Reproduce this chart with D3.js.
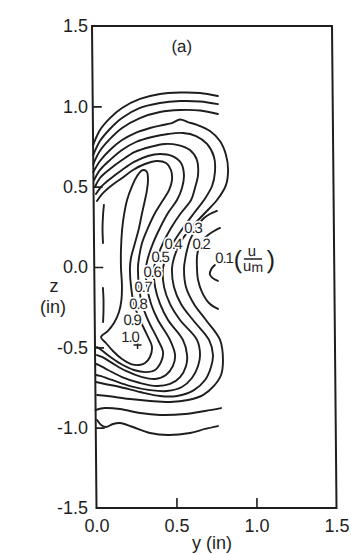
<!DOCTYPE html>
<html>
<head>
<meta charset="utf-8">
<script src="https://cdn.jsdelivr.net/npm/d3@7"></script>
<style>
  html, body { margin: 0; padding: 0; background: #fff; }
  svg { display: block; }
</style>
</head>
<body>
<svg id="chart" width="351" height="554"></svg>
<script>
// Velocity contours u/um in the (y, z) plane, coordinates in inches: [y, z]
const level01Top = [[0.000,0.759],[0.044,0.853],[0.107,0.927],[0.183,0.990],[0.296,1.046],[0.421,1.077],[0.546,1.086],[0.671,1.083],[0.783,1.064]];
const level01Mid = [[0.754,0.012],[0.732,-0.012],[0.722,-0.044],[0.738,-0.068],[0.772,-0.087]];
const level01Bot = [[0.009,-0.952],[0.034,-0.983],[0.064,-0.996],[0.108,-0.977],[0.152,-0.971],[0.233,-0.996],[0.339,-1.033],[0.451,-1.046],[0.589,-1.033],[0.683,-1.008],[0.764,-0.990]];

const level02Top = [[0.000,0.697],[0.043,0.784],[0.106,0.859],[0.182,0.927],[0.295,0.990],[0.420,1.021],[0.546,1.033],[0.671,1.030],[0.783,1.014]];
const level02Mid = [[0.788,0.243],[0.751,0.224],[0.713,0.199],[0.681,0.168],[0.656,0.124],[0.643,0.068],[0.642,-0.006],[0.648,-0.081],[0.672,-0.156],[0.715,-0.224],[0.771,-0.261]];
const level02Bot = [[0.000,-0.890],[0.059,-0.878],[0.152,-0.884],[0.278,-0.909],[0.402,-0.921],[0.559,-0.915],[0.684,-0.896],[0.784,-0.878]];

const level03Top = [[0.000,0.641],[0.042,0.722],[0.106,0.797],[0.182,0.865],[0.294,0.927],[0.420,0.965],[0.545,0.977],[0.670,0.974],[0.782,0.952]];
const level03Low = [[0.770,0.349],[0.726,0.330],[0.689,0.305],[0.657,0.268],[0.626,0.218],[0.600,0.168],[0.581,0.106],[0.568,0.044],[0.561,-0.006],[0.572,-0.124],[0.621,-0.230],[0.695,-0.330],[0.782,-0.454],[0.799,-0.579],[0.786,-0.672],[0.741,-0.740],[0.672,-0.797],[0.578,-0.828],[0.466,-0.840],[0.341,-0.834],[0.216,-0.822],[0.122,-0.809],[0.010,-0.797]];

const level04 = [[0.000,0.591],[0.042,0.660],[0.105,0.728],[0.181,0.790],[0.263,0.834],[0.357,0.865],[0.438,0.884],[0.494,0.896],[0.545,0.918],[0.594,0.902],[0.651,0.884],[0.731,0.846],[0.793,0.784],[0.830,0.697],[0.842,0.604],[0.828,0.510],[0.771,0.417],[0.695,0.336],[0.607,0.243],[0.537,0.149],[0.499,0.056],[0.486,-0.006],[0.497,-0.124],[0.540,-0.230],[0.614,-0.330],[0.713,-0.454],[0.737,-0.548],[0.724,-0.622],[0.686,-0.703],[0.616,-0.766],[0.510,-0.803],[0.403,-0.803],[0.279,-0.778],[0.154,-0.747],[0.060,-0.728],[0.004,-0.716]];

const level05 = [[0.004,0.541],[0.042,0.604],[0.105,0.666],[0.180,0.728],[0.268,0.778],[0.369,0.809],[0.469,0.828],[0.563,0.834],[0.644,0.815],[0.712,0.766],[0.755,0.685],[0.760,0.591],[0.741,0.504],[0.690,0.417],[0.627,0.336],[0.557,0.243],[0.494,0.149],[0.449,0.056],[0.430,-0.006],[0.435,-0.124],[0.471,-0.230],[0.533,-0.330],[0.638,-0.454],[0.656,-0.548],[0.643,-0.616],[0.604,-0.691],[0.541,-0.747],[0.447,-0.772],[0.341,-0.766],[0.217,-0.741],[0.104,-0.703],[0.030,-0.678],[0.005,-0.672]];

const level06 = [[0.009,0.498],[0.041,0.554],[0.104,0.610],[0.180,0.666],[0.261,0.716],[0.355,0.747],[0.449,0.766],[0.531,0.759],[0.605,0.728],[0.648,0.666],[0.654,0.573],[0.634,0.492],[0.609,0.417],[0.545,0.336],[0.482,0.243],[0.431,0.149],[0.393,0.056],[0.373,-0.006],[0.379,-0.124],[0.409,-0.230],[0.458,-0.330],[0.550,-0.454],[0.575,-0.548],[0.568,-0.616],[0.530,-0.685],[0.467,-0.728],[0.385,-0.741],[0.279,-0.722],[0.167,-0.685],[0.080,-0.641],[0.024,-0.610],[0.005,-0.604]];

const level07 = [[0.015,0.454],[0.047,0.498],[0.104,0.548],[0.179,0.604],[0.255,0.654],[0.342,0.691],[0.418,0.703],[0.492,0.691],[0.548,0.647],[0.566,0.573],[0.553,0.492],[0.521,0.417],[0.464,0.336],[0.413,0.243],[0.369,0.149],[0.336,0.056],[0.323,-0.006],[0.329,-0.124],[0.353,-0.230],[0.395,-0.330],[0.469,-0.454],[0.500,-0.548],[0.486,-0.616],[0.442,-0.672],[0.373,-0.697],[0.292,-0.685],[0.192,-0.647],[0.105,-0.597],[0.043,-0.560],[0.012,-0.548]];

const level08 = [[0.021,0.411],[0.053,0.454],[0.109,0.504],[0.179,0.554],[0.248,0.604],[0.323,0.641],[0.398,0.660],[0.455,0.647],[0.485,0.604],[0.491,0.541],[0.472,0.479],[0.434,0.417],[0.383,0.336],[0.338,0.243],[0.300,0.149],[0.280,0.056],[0.273,-0.006],[0.279,-0.124],[0.296,-0.230],[0.333,-0.330],[0.394,-0.454],[0.425,-0.529],[0.412,-0.591],[0.374,-0.641],[0.317,-0.654],[0.242,-0.641],[0.162,-0.604],[0.087,-0.554],[0.031,-0.510],[0.013,-0.498]];

// closed 0.9 contour around the core of the jet
const level09Loop = [[0.038,-0.436],[0.069,-0.473],[0.112,-0.523],[0.168,-0.573],[0.224,-0.604],[0.274,-0.610],[0.312,-0.597],[0.343,-0.560],[0.356,-0.498],[0.326,-0.423],[0.283,-0.330],[0.246,-0.230],[0.229,-0.124],[0.223,-0.006],[0.230,0.056],[0.256,0.149],[0.282,0.243],[0.302,0.336],[0.321,0.417],[0.334,0.479],[0.341,0.541],[0.335,0.591],[0.317,0.604],[0.298,0.597],[0.273,0.566],[0.241,0.504],[0.209,0.417],[0.189,0.324],[0.176,0.230],[0.168,0.106],[0.167,-0.006],[0.172,-0.112],[0.168,-0.205],[0.152,-0.280],[0.120,-0.349],[0.082,-0.398]];

// short pieces running along the symmetry plane
const wallPieceUpper = [[0.064,0.386],[0.058,0.324],[0.054,0.243],[0.056,0.149]];
const wallPieceLower = [[0.053,-0.131],[0.056,-0.205],[0.055,-0.280],[0.052,-0.342]];

// contour value labels and their anchor points (inches)
const labelTexts = ["0.3","0.4","0.2","0.5","0.6","0.7","0.8","0.9","1.0","0.1"];
const labelY     = [0.619, 0.494, 0.669, 0.412, 0.361, 0.304, 0.271, 0.233, 0.219, 0.811];
const labelZ     = [0.243, 0.149, 0.149, 0.068,-0.031,-0.124,-0.230,-0.324,-0.430, 0.056];

// location of the velocity maximum
const peakPoint = [0.266, -0.485];

// axes
const yTickLabels = [1.5, 1.0, 0.5, 0.0, -0.5, -1.0, -1.5];
const yTickMarks  = [1.0, 0.5, 0.0, -0.5, -1.0];
const xTickLabels = [0.0, 0.5, 1.0, 1.5];
const xTickMarks  = [0.5, 1.0];

const openContours = [
  {level: 0.1, pts: level01Top}, {level: 0.1, pts: level01Mid}, {level: 0.1, pts: level01Bot},
  {level: 0.2, pts: level02Top}, {level: 0.2, pts: level02Mid}, {level: 0.2, pts: level02Bot},
  {level: 0.3, pts: level03Top}, {level: 0.3, pts: level03Low},
  {level: 0.4, pts: level04}, {level: 0.5, pts: level05}, {level: 0.6, pts: level06},
  {level: 0.7, pts: level07}, {level: 0.8, pts: level08},
  {level: 0.9, pts: wallPieceUpper}, {level: 0.9, pts: wallPieceLower}
];

const FONT = '"Liberation Sans", Arial, Helvetica, sans-serif';
const INK = "#1e1e1e";

const svg = d3.select("#chart");
svg.append("rect").attr("width", 351).attr("height", 554).attr("fill", "#fff");

const plotLeft = 92, plotTop = 26, plotW = 240, plotH = 482;
const lean = 0.535; // degrees, the frame leans slightly to the right

const x = d3.scaleLinear().domain([0, 1.5]).range([0, plotW]);
const z = d3.scaleLinear().domain([-1.5, 1.5]).range([plotH, 0]);

const plot = svg.append("g")
  .attr("transform", `translate(${plotLeft},${plotTop}) skewX(${lean})`);

// inward tick marks
plot.append("g")
  .call(d3.axisRight(z).tickValues(yTickMarks).tickSize(9).tickFormat(""))
  .call(g => g.select(".domain").remove())
  .call(g => g.selectAll("line").attr("stroke", INK).attr("stroke-width", 1.6));
plot.append("g")
  .attr("transform", `translate(0,${plotH})`)
  .call(d3.axisTop(x).tickValues(xTickMarks).tickSize(10).tickFormat(""))
  .call(g => g.select(".domain").remove())
  .call(g => g.selectAll("line").attr("stroke", INK).attr("stroke-width", 1.6));

// frame
plot.append("rect")
  .attr("width", plotW).attr("height", plotH)
  .attr("fill", "none").attr("stroke", INK).attr("stroke-width", 2);

// contour lines
const line = d3.line()
  .x(d => x(d[0])).y(d => z(d[1]))
  .curve(d3.curveCatmullRom.alpha(0.5));
const loop = d3.line()
  .x(d => x(d[0])).y(d => z(d[1]))
  .curve(d3.curveCatmullRomClosed.alpha(0.5));

const contourG = plot.append("g")
  .attr("fill", "none").attr("stroke", INK)
  .attr("stroke-width", 1.9).attr("stroke-linecap", "round").attr("stroke-linejoin", "round");
contourG.selectAll("path.open").data(openContours).join("path")
  .attr("class", "open").attr("d", d => line(d.pts));
contourG.append("path").datum(level09Loop).attr("d", loop);

// peak marker
const [py0, pz0] = [x(peakPoint[0]), z(peakPoint[1])];
plot.append("path")
  .attr("d", `M${py0 - 4},${pz0}H${py0 + 4}M${py0},${pz0 - 4}V${pz0 + 4}`)
  .attr("stroke", INK).attr("stroke-width", 1.5);

// contour value labels, with a white halo that breaks the lines beneath
const labels = labelTexts.map((t, i) => ({t, y: labelY[i], z: labelZ[i]}));
plot.append("g").selectAll("text").data(labels).join("text")
  .attr("x", d => x(d.y)).attr("y", d => z(d.z))
  .attr("text-anchor", "middle").attr("dominant-baseline", "central")
  .attr("font-family", FONT).attr("font-size", 15).attr("letter-spacing", -1.2)
  .attr("fill", INK).attr("stroke", "#fff").attr("stroke-width", 3.5)
  .attr("paint-order", "stroke")
  .text(d => d.t);

// (u / um) beside the 0.1 label
const fx = x(labelY[9]), fz = z(labelZ[9]);
const frac = plot.append("g").attr("font-family", FONT).attr("fill", INK);
frac.append("text").attr("x", fx + 14).attr("y", fz + 10).attr("font-size", 25)
  .attr("text-anchor", "middle").text("(");
frac.append("text").attr("x", fx + 28).attr("y", fz - 2).attr("font-size", 15)
  .attr("text-anchor", "middle").text("u");
frac.append("line").attr("x1", fx + 20).attr("x2", fx + 38).attr("y1", fz + 1).attr("y2", fz + 1)
  .attr("stroke", INK).attr("stroke-width", 1.4);
const um = frac.append("text").attr("x", fx + 29).attr("y", fz + 13).attr("font-size", 15)
  .attr("text-anchor", "middle");
um.append("tspan").text("u");
um.append("tspan").attr("dy", 1).attr("font-size", 14).text("m");
frac.append("text").attr("x", fx + 47).attr("y", fz + 10).attr("font-size", 25)
  .attr("text-anchor", "middle").text(")");

// panel tag
plot.append("text")
  .attr("x", x(0.56)).attr("y", z(1.37) + 5)
  .attr("text-anchor", "middle").attr("font-family", FONT).attr("font-size", 17)
  .attr("fill", INK).text("(a)");

// tick labels
const fmt = v => (v < 0 ? "-" : "") + Math.abs(v).toFixed(1);
svg.append("g")
  .attr("transform", `translate(${plotLeft - 3},${plotTop})`)
  .attr("color", INK)
  .call(d3.axisLeft(z).tickValues(yTickLabels).tickSize(0).tickPadding(1).tickFormat(fmt))
  .call(g => g.select(".domain").remove())
  .call(g => g.selectAll("text").attr("font-family", FONT).attr("font-size", 18).attr("fill", INK));

svg.append("g")
  .attr("transform", `translate(${plotLeft + 4.5},${plotTop + plotH})`)
  .attr("color", INK)
  .call(d3.axisBottom(x).tickValues(xTickLabels).tickSize(0).tickPadding(11).tickFormat(fmt))
  .call(g => g.select(".domain").remove())
  .call(g => g.selectAll("text").attr("font-family", FONT).attr("font-size", 18).attr("fill", INK));

// axis titles
svg.append("text").attr("x", 212).attr("y", 549).attr("text-anchor", "middle")
  .attr("font-family", FONT).attr("font-size", 18).attr("fill", INK).text("y (in)");
svg.append("text").attr("x", 54).attr("y", 292).attr("text-anchor", "middle")
  .attr("font-family", FONT).attr("font-size", 18).attr("fill", INK).text("z");
svg.append("text").attr("x", 53).attr("y", 313).attr("text-anchor", "middle")
  .attr("font-family", FONT).attr("font-size", 18).attr("fill", INK).text("(in)");
</script>
</body>
</html>
